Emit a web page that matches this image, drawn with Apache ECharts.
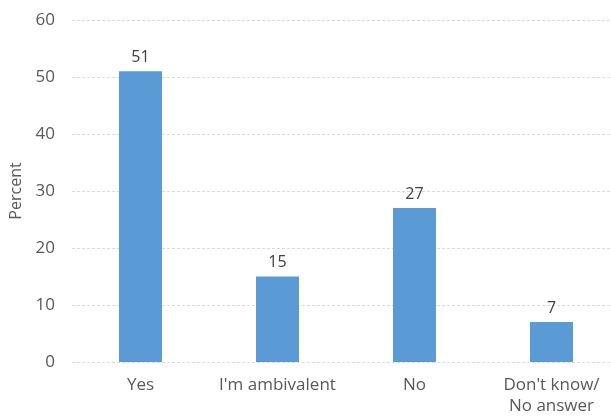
<!DOCTYPE html>
<html><head><meta charset="utf-8">
<script src="https://cdn.jsdelivr.net/npm/echarts@6/dist/echarts.min.js"></script>
<style>html,body{margin:0;padding:0;background:#fff;overflow:hidden}#c{width:622px;height:420px}</style>
</head><body><div id="c"></div>
<script>
const categories = ["Yes", "I'm ambivalent", "No", "Don't know/\nNo answer"];
const values = [51, 15, 27, 7];
const yTicks = [0, 10, 20, 30, 40, 50, 60];
const yTitle = "Percent";

const chart = echarts.init(document.getElementById('c'), null, {renderer: 'canvas'});
const font = "'Open Sans', sans-serif";
chart.setOption({
  animation: false,
  grid: {left: 68, top: 20, width: 552, height: 342, containLabel: false},
  xAxis: {
    type: 'category', data: categories,
    axisLine: {show: false}, axisTick: {show: false},
    axisLabel: {color: '#595959', fontSize: 17, fontFamily: font, margin: 13, lineHeight: 21, interval: 0}
  },
  yAxis: {
    type: 'value', min: yTicks[0], max: yTicks[yTicks.length - 1], interval: 10,
    name: yTitle, nameLocation: 'middle', nameGap: 48, nameRotate: 90,
    nameTextStyle: {color: '#595959', fontSize: 16, fontFamily: font},
    axisLine: {show: false}, axisTick: {show: false},
    axisLabel: {color: '#595959', fontSize: 17, fontFamily: font, margin: 17},
    splitLine: {lineStyle: {color: '#d9d9d9', type: [3, 2], width: 1}}
  },
  series: [{
    type: 'bar', data: values, barWidth: 43,
    itemStyle: {color: '#5B9BD5'},
    label: {show: true, position: 'top', color: '#404040', fontSize: 16, fontFamily: font, distance: 6}
  }]
});
</script></body></html>
